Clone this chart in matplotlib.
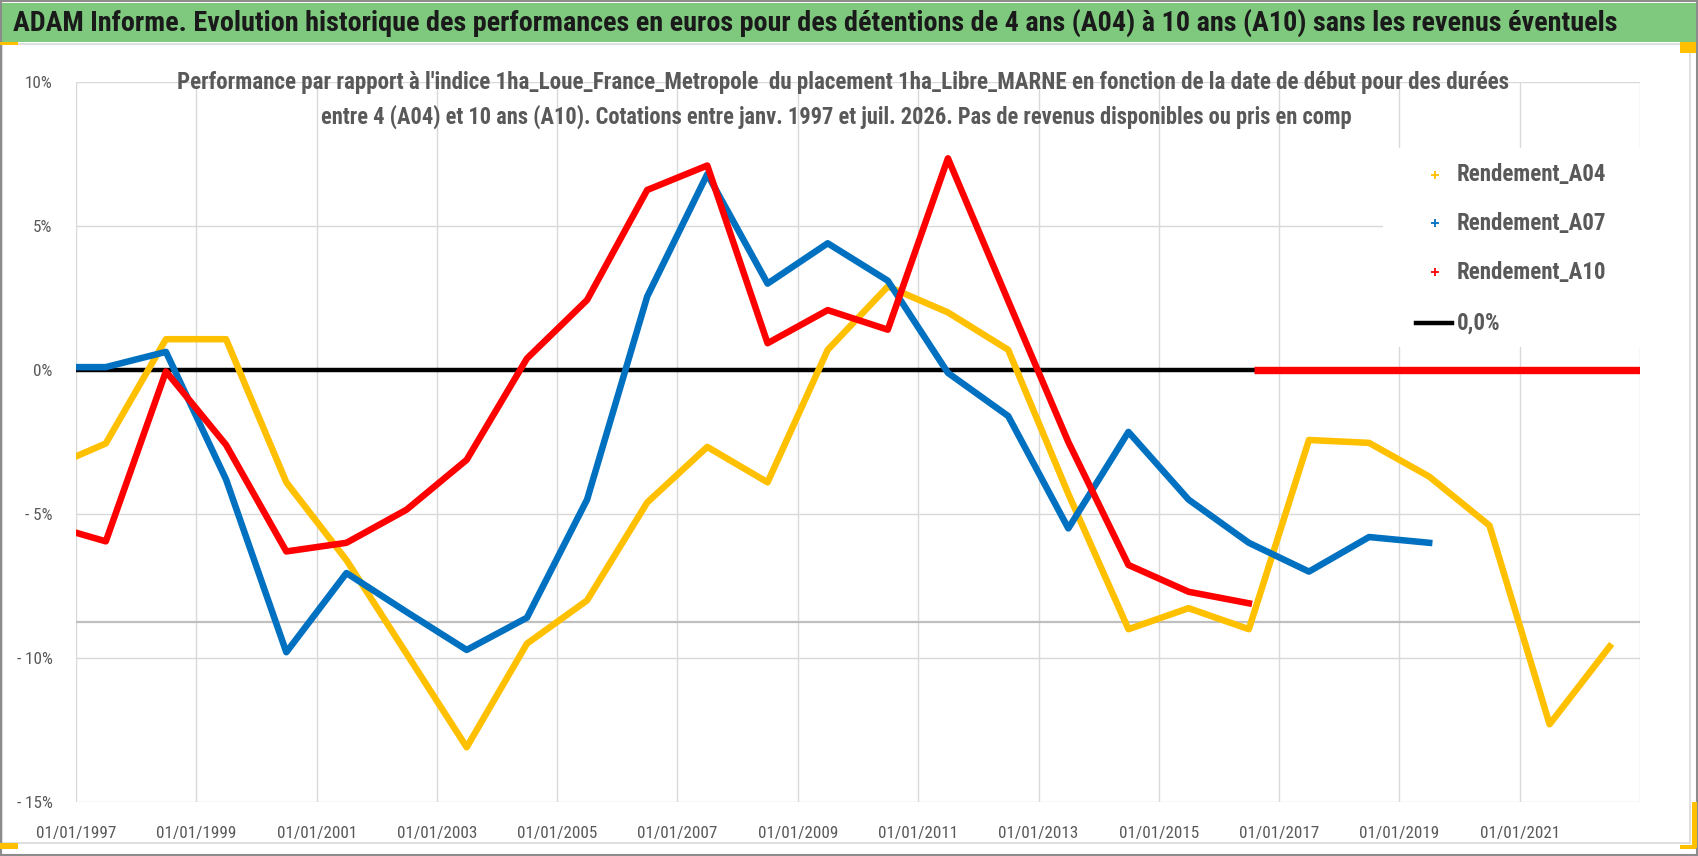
import matplotlib
matplotlib.use("Agg")
import matplotlib.pyplot as plt
import matplotlib.dates as mdates
from matplotlib.lines import Line2D
from matplotlib.patches import Rectangle
from matplotlib import font_manager as fm
import pandas as pd

# ---------------- data ----------------
dates = ["1997-01-01"] + [f"{y}-07-01" for y in range(1997, 2023)]
a04 = [-3.0, -2.55, 1.07, 1.07, -3.9, -6.6, -9.85, -13.1, -9.5, -8.0, -4.6, -2.67, -3.9,
       0.7, 2.9, 2.0, 0.7, -4.3, -9.0, -8.27, -9.0, -2.43, -2.53, -3.7, -5.4, -12.3, -9.6]
a07 = [0.1, 0.1, 0.63, -3.8, -9.8, -7.05, -8.4, -9.72, -8.6, -4.5, 2.55, 6.8, 3.0,
       4.4, 3.1, -0.1, -1.6, -5.5, -2.15, -4.5, -6.0, -7.0, -5.8, -6.0]
a10 = [-5.65, -5.95, -0.05, -2.6, -6.3, -6.0, -4.85, -3.12, 0.4, 2.43, 6.25, 7.1, 0.93,
       2.08, 1.4, 7.35, 2.4, -2.5, -6.77, -7.7, -8.1]
a10_zero_dates = ["2016-08-01", "2023-01-01"]
a10_zero_vals = [0.0, 0.0]
zero_dates = ["1997-01-01", "2023-01-01"]
zero_vals = [0.0, 0.0]
extra_line_level = -8.75
yticks = [10, 5, 0, -5, -10, -15]
ytick_labels = ["10%", "5%", "0%", "- 5%", "- 10%", "- 15%"]
xtick_years = list(range(1997, 2023, 2))
series_names = ["Rendement_A04", "Rendement_A07", "Rendement_A10", "0,0%"]

title = ("ADAM Informe. Evolution historique des performances en euros pour des détentions "
         "de 4 ans (A04) à 10 ans (A10) sans les revenus éventuels")
sub1 = ("Performance par rapport à l'indice 1ha_Loue_France_Metropole  du placement "
        "1ha_Libre_MARNE en fonction de la date de début pour des durées")
sub2 = ("entre 4 (A04) et 10 ans (A10). Cotations entre janv. 1997 et juil. 2026. "
        "Pas de revenus disponibles ou pris en comp")

# ---------------- narrow font selection ----------------
def pick_font(bold):
    want = 700 if bold else 400
    prefs = ["Liberation Sans Narrow", "Roboto Condensed", "Open Sans Condensed",
             "Noto Sans Condensed", "DejaVu Sans Condensed"]
    cands = []
    for f in fm.fontManager.ttflist:
        name = f.name
        stretch = str(f.stretch)
        w = f.weight if isinstance(f.weight, int) else (700 if "bold" in str(f.weight).lower() else 400)
        if f.style != "normal":
            continue
        score = None
        for i, p in enumerate(prefs):
            if name == p:
                score = i
        if score is None and ("condensed" in stretch or "narrow" in f.fname.lower()
                              or "condensed" in f.fname.lower()):
            if "Mono" in name or "Serif" in name:
                continue
            score = 10
        if score is None:
            continue
        cands.append((score, abs(w - want), f.fname))
    if not cands:
        return fm.FontProperties(family="DejaVu Sans", weight="bold" if bold else "normal")
    cands.sort()
    return fm.FontProperties(fname=cands[0][2])

FB = pick_font(True)
FR = pick_font(False)

# ---------------- figure ----------------
W, H = 1698, 856
fig = plt.figure(figsize=(W / 100, H / 100), dpi=100)
fig.patch.set_facecolor("white")

def fx(x):
    return x / W

def fy(y):
    return 1 - y / H

ax = fig.add_axes([fx(76), fy(802), fx(1640) - fx(76), fy(82) - fy(802)])
ax.set_facecolor("white")

d = pd.to_datetime(dates)
YEL, BLU, RED = "#FFC000", "#0070C0", "#FF0000"
LW = 4.7
ax.plot(pd.to_datetime(zero_dates), zero_vals, color="black", lw=3.2, zorder=2, solid_capstyle="butt")
ax.axhline(extra_line_level, color="#BFBFBF", lw=1.6, zorder=1)
ax.plot(d[:len(a04)], a04, color=YEL, lw=LW, zorder=3)
ax.plot(d[:len(a07)], a07, color=BLU, lw=LW, zorder=4)
ax.plot(d[:len(a10)], a10, color=RED, lw=LW, zorder=5)
ax.plot(pd.to_datetime(a10_zero_dates), a10_zero_vals, color=RED, lw=LW + 0.6, zorder=5,
        solid_capstyle="butt")

ax.set_xlim(pd.Timestamp("1997-01-01"), pd.Timestamp("2023-01-01"))
ax.set_ylim(-15, 10)
ax.set_yticks(yticks)
ax.set_yticklabels(ytick_labels)
ax.set_xticks(pd.to_datetime([f"{y}-01-01" for y in xtick_years]))
ax.xaxis.set_major_formatter(mdates.DateFormatter("%d/%m/%Y"))
ax.grid(True, color="#D9D9D9", lw=1.0, zorder=0)
ax.set_axisbelow(True)
for s in ax.spines.values():
    s.set_visible(False)
ax.tick_params(length=0, colors="#595959")
ax.tick_params(axis="y", pad=17)
ax.tick_params(axis="x", pad=17)
ax.axvline(pd.Timestamp("2023-01-01"), color="#D9D9D9", lw=1.0, zorder=0)

# ---------------- decoration ----------------
fig.add_artist(Rectangle((0, fy(42)), 1, fy(3) - fy(42), transform=fig.transFigure,
                         facecolor="#7FC97F", edgecolor="none", zorder=0))
fig.add_artist(Rectangle((fx(2), fy(843)), fx(1690) - fx(2), fy(44) - fy(843),
                         transform=fig.transFigure, facecolor="none", edgecolor="#D9D9D9",
                         lw=1.2, zorder=0))
fig.add_artist(Rectangle((fx(1), fy(855)), fx(1697) - fx(1), fy(1) - fy(855),
                         transform=fig.transFigure, facecolor="none", edgecolor="#8C8C8C",
                         lw=1.5, zorder=0))
for (x0, y0, x1, y1) in [(0, 42, 18, 45), (1680, 42, 1696, 53), (1692, 802, 1697, 848),
                         (1680, 845, 1696, 849), (0, 843, 18, 849)]:
    fig.add_artist(Rectangle((fx(x0), fy(y1)), fx(x1) - fx(x0), fy(y0) - fy(y1),
                             transform=fig.transFigure, facecolor="#FFC000",
                             edgecolor="none", zorder=6))

fig.add_artist(Rectangle((fx(1383), fy(347)), fx(1670) - fx(1383), fy(148) - fy(347),
                         transform=fig.transFigure, facecolor="white", edgecolor="none",
                         zorder=5))

t_title = fig.text(fx(13), fy(23), title, ha="left", va="center", fontproperties=FB,
                   fontsize=18, color="#1A1A1A", zorder=7)
t_s1 = fig.text(fx(843), fy(82), sub1, ha="center", va="center", fontproperties=FB,
                fontsize=14, color="#595959", zorder=7)
t_s2 = fig.text(fx(836), fy(117), sub2, ha="center", va="center", fontproperties=FB,
                fontsize=14, color="#595959", zorder=7)

handles = [Line2D([], [], color=YEL, marker="+", ls="none", ms=6, mew=1.3),
           Line2D([], [], color=BLU, marker="+", ls="none", ms=6, mew=1.3),
           Line2D([], [], color=RED, marker="+", ls="none", ms=6, mew=1.3),
           Line2D([], [], color="black", lw=3.2)]
leg_texts = []
leg_y = [175, 223, 272, 323]
for h, name, yy in zip(handles, series_names, leg_y):
    if h.get_marker() == "+":
        fig.add_artist(Line2D([fx(1435)], [fy(yy)], transform=fig.transFigure,
                              color=h.get_color(), marker="+", ls="none", ms=6, mew=1.3, zorder=7))
    else:
        fig.add_artist(Line2D([fx(1416), fx(1452)], [fy(yy), fy(yy)], transform=fig.transFigure,
                              color="black", lw=3.2, zorder=7))
    leg_texts.append(fig.text(fx(1457), fy(yy), name, ha="left", va="center", fontproperties=FB,
                              fontsize=14, color="#595959", zorder=7))

fig.canvas.draw()
r = fig.canvas.get_renderer()

def fit(t, target):
    w = t.get_window_extent(r).width
    t.set_fontsize(t.get_fontsize() * target / w)

fit(t_title, 1603)
fit(t_s1, 1340)
fit(t_s2, 1039)
fit(leg_texts[0], 150)
for t in leg_texts[1:]:
    t.set_fontsize(leg_texts[0].get_fontsize())

tmp = fig.text(0, 0, "01/01/1997", fontproperties=FR, fontsize=11.5)
xfs = 11.5 * 80 / tmp.get_window_extent(r).width
tmp.remove()
tmp = fig.text(0, 0, "- 10%", fontproperties=FR, fontsize=11.5)
yfs = 11.5 * 36 / tmp.get_window_extent(r).width
tmp.remove()
for lab in ax.get_xticklabels():
    lab.set_fontproperties(FR)
    lab.set_fontsize(xfs)
for lab in ax.get_yticklabels():
    lab.set_fontproperties(FR)
    lab.set_fontsize(yfs)

fig.savefig("out.png", dpi=100, facecolor="white")
